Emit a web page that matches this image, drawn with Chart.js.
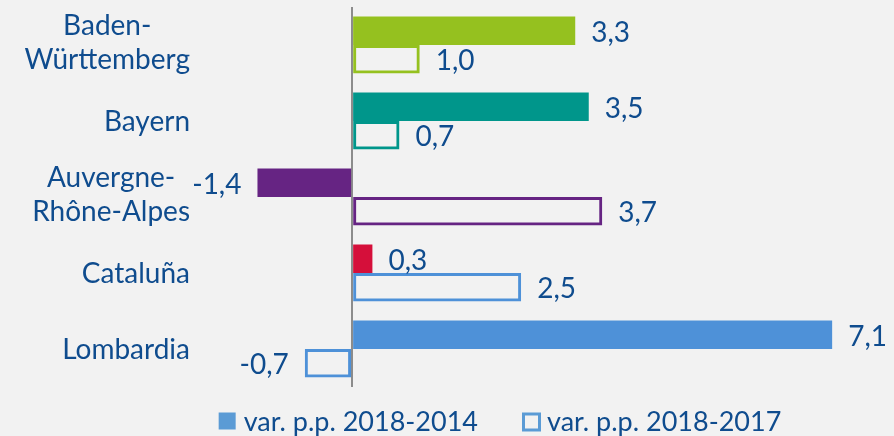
<!DOCTYPE html>
<html>
<head>
<meta charset="utf-8">
<script src="https://cdn.jsdelivr.net/npm/chart.js@4.4.1/dist/chart.umd.min.js"></script>
<style>
  html, body { margin: 0; padding: 0; background: #f2f2f2; }
  #wrap { width: 894px; height: 436px; position: relative; }
</style>
</head>
<body>
<div id="wrap"><canvas id="myChart" width="894" height="436"></canvas></div>
<script>
// Regions (multi-line labels as arrays)
const categories = [['Baden-', 'Württemberg'], ['Bayern'], ['Auvergne-', 'Rhône-Alpes'], ['Cataluña'], ['Lombardia']];
// var. p.p. 2018-2014
const var2014 = [3.3, 3.5, -1.4, 0.3, 7.1];
// var. p.p. 2018-2017
const var2017 = [1.0, 0.7, 3.7, 2.5, -0.7];
const seriesNames = ['var. p.p. 2018-2014', 'var. p.p. 2018-2017'];
const fillColors = ['#95c11f', '#00968b', '#662483', '#d50f3a', '#4e91d8'];
const outlineColors = ['#95c11f', '#00968b', '#662483', '#4e91d8', '#4e91d8'];

const textColor = '#0f4c8e';
const fontFamily = 'Lato, "Open Sans", sans-serif';
const fontSize = 28;
const legendBlue = '#5b9bd5';

const fmt = v => v.toFixed(1).replace('.', ',');

// Draws region names, value labels and the legend
const labelPlugin = {
  id: 'labelPlugin',
  afterDatasetsDraw(chart) {
    const ctx = chart.ctx;
    const yScale = chart.scales.y;
    ctx.save();
    ctx.font = fontSize + 'px ' + fontFamily;
    ctx.fillStyle = textColor;
    ctx.textBaseline = 'middle';

    // Category labels: block right-aligned, lines centered within block
    const rightEdge = 190;
    const lineH = 34;
    chart.data.labels.forEach((lab, i) => {
      const lines = Array.isArray(lab) ? lab : [lab];
      const w = Math.max(...lines.map(l => ctx.measureText(l).width));
      const cx = rightEdge - w / 2;
      const cy = yScale.getPixelForTick(i) - 3 * (lines.length - 1);
      ctx.textAlign = 'center';
      lines.forEach((l, k) => {
        ctx.fillText(l, cx, cy + (k - (lines.length - 1) / 2) * lineH + 1);
      });
    });

    // Value labels
    chart.data.datasets.forEach((ds, di) => {
      const meta = chart.getDatasetMeta(di);
      meta.data.forEach((bar, i) => {
        const v = ds.data[i];
        if (v >= 0) {
          ctx.textAlign = 'left';
          ctx.fillText(fmt(v), bar.x + 16, bar.y + 2);
        } else {
          ctx.textAlign = 'right';
          ctx.fillText(fmt(v), bar.x - 16, bar.y + 2);
        }
      });
    });

    // Legend
    ctx.font = '27px ' + fontFamily;
    const box = 17;
    const w1 = ctx.measureText(chart.data.datasets[0].label).width;
    const w2 = ctx.measureText(chart.data.datasets[1].label).width;
    const total = box + 8 + w1 + 44 + box + 8 + w2;
    let x = 500 - total / 2;
    const ly = 421;
    ctx.fillStyle = legendBlue;
    ctx.fillRect(x, ly - box / 2, box, box);
    x += box + 8;
    ctx.fillStyle = textColor;
    ctx.textAlign = 'left';
    ctx.fillText(chart.data.datasets[0].label, x, ly + 1);
    x += w1 + 44;
    ctx.strokeStyle = legendBlue;
    ctx.lineWidth = 3;
    ctx.strokeRect(x + 1.5, ly - box / 2 + 1.5, box - 1, box - 1);
    x += box + 8;
    ctx.fillText(chart.data.datasets[1].label, x, ly + 1);
    ctx.restore();
  }
};

const ctx = document.getElementById('myChart').getContext('2d');
new Chart(ctx, {
  type: 'bar',
  data: {
    labels: categories,
    datasets: [
      {
        label: seriesNames[0],
        data: var2014,
        backgroundColor: fillColors,
        borderWidth: 0,
        categoryPercentage: 0.75,
        barPercentage: 1
      },
      {
        label: seriesNames[1],
        data: var2017,
        backgroundColor: 'rgba(0,0,0,0)',
        borderColor: outlineColors,
        borderWidth: 3,
        borderSkipped: false,
        categoryPercentage: 0.75,
        barPercentage: 1
      }
    ]
  },
  options: {
    indexAxis: 'y',
    responsive: false,
    animation: false,
    layout: { padding: { top: 7, bottom: 49, right: 1, left: 0 } },
    scales: {
      x: {
        min: -2.25,
        max: 8,
        ticks: { display: false, stepSize: 1 },
        border: { display: false },
        grid: {
          color: c => (c.tick && c.tick.value === 0 ? '#8c8c8c' : 'rgba(0,0,0,0)'),
          lineWidth: 2,
          drawTicks: false
        },
        afterFit: s => { s.height = 0; }
      },
      y: {
        ticks: { display: false },
        border: { display: false },
        grid: { display: false },
        afterFit: s => { s.width = 200; }
      }
    },
    plugins: {
      legend: { display: false },
      tooltip: { enabled: false }
    }
  },
  plugins: [labelPlugin]
});
</script>
</body>
</html>
